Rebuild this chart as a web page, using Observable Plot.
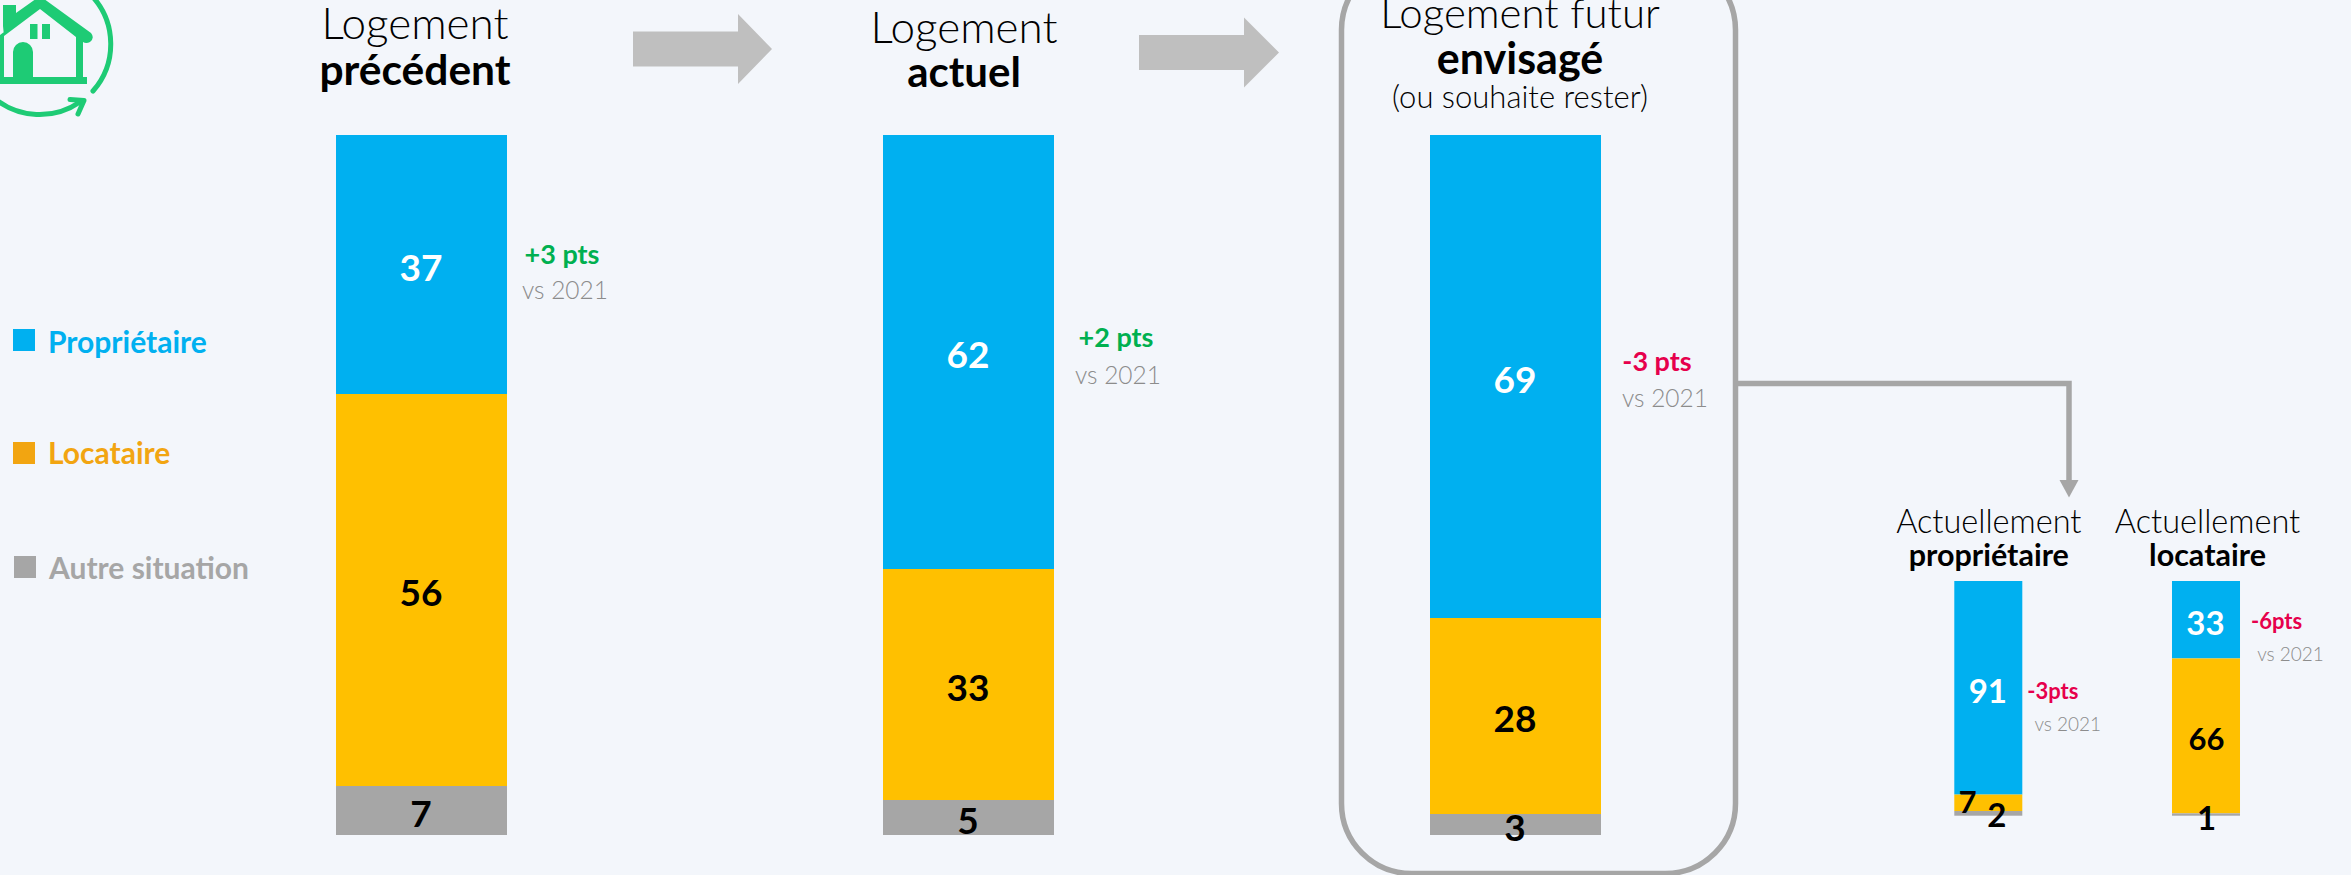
<!DOCTYPE html>
<html lang="fr">
<head>
<meta charset="utf-8">
<title>Logement précédent, actuel et futur envisagé</title>
<script src="https://cdn.jsdelivr.net/npm/d3@7"></script>
<script src="https://cdn.jsdelivr.net/npm/@observablehq/plot@0.6"></script>
<style>
  html, body { margin: 0; padding: 0; background: #F3F6FB; }
  #page { position: relative; width: 2351px; height: 875px; overflow: hidden; background: #F3F6FB; font-family: Lato, "Noto Sans", sans-serif; }
  #page svg { position: absolute; left: 0; top: 0; background: transparent; font-family: Lato, "Noto Sans", sans-serif; }
  .legend-item { position: absolute; font-weight: 700; font-size: 30px; line-height: 1; white-space: nowrap; }
  .legend-item i { position: absolute; left: -36px; top: 3px; width: 22px; height: 22px; display: block; }
</style>
</head>
<body>
<div id="page"></div>
<script>
// ---- Data ----
const series = ["Propriétaire", "Locataire", "Autre situation"];
const seriesColors = ["#00B0F0", "#FFC000", "#A6A6A6"];
const legendColors = ["#00B0F0", "#F2A511", "#A6A6A6"];

const mainColumns = ["précédent", "actuel", "envisagé"];
const mainProprietaire = [37, 62, 69];
const mainLocataire = [56, 33, 28];
const mainAutre = [7, 5, 3];

const detailColumns = ["propriétaire", "locataire"];
const detailProprietaire = [91, 33];
const detailLocataire = [7, 66];
const detailAutre = [2, 1];

const mainDeltas = ["+3 pts", "+2 pts", "-3 pts"];
const detailDeltas = ["-3pts", "-6pts"];
const versus = "vs 2021";

const GREEN = "#00B050", RED = "#E6004C", GREY = "#8C8C8C";

function rows(columns, ...values) {
  return columns.flatMap((c, i) => series.map((s, k) => ({col: c, serie: s, value: values[k][i]})));
}
const mainRows = rows(mainColumns, mainProprietaire, mainLocataire, mainAutre);
const detailRows = rows(detailColumns, detailProprietaire, detailLocataire, detailAutre);

const color = {domain: series, range: seriesColors};
const y = {domain: [0, 100], reverse: true, axis: null};

// value label on its stacked segment; the stack runs over all rows, only the selected ones print
const valueLabel = (data, keep, fill, fontSize, dx, dy) =>
  Plot.text(data, Plot.stackY({x: "col", y: "value", order: null, text: d => keep(d) ? d.value : "", fill, fontSize, fontWeight: 700, dx, dy}));

// text placed relative to the frame's top edge, horizontally on a column
const note = (col, text, baseline, dx, size, weight, fill, top) =>
  Plot.text([col], {x: d => d, text: () => text, frameAnchor: "top", lineAnchor: "bottom", dy: baseline - top, dx,
    fontSize: size, fontWeight: weight, fill});

function decorations() {
  const g = d3.create("svg:g");
  const arrow = (x0, xs, x1, yc) => g.append("path")
    .attr("d", `M${x0},${yc - 17.5}H${xs}V${yc - 35}L${x1},${yc}L${xs},${yc + 35}V${yc + 17.5}H${x0}Z`).attr("fill", "#BFBFBF");
  arrow(633, 738, 772, 49);
  arrow(1139, 1244, 1279, 52.5);

  // rounded frame around the "futur" column, running off the top
  g.append("rect").attr("x", 1341.5).attr("y", -40).attr("width", 394).attr("height", 913.5).attr("rx", 70).attr("ry", 70)
    .attr("fill", "none").attr("stroke", "#A6A6A6").attr("stroke-width", 5.5);

  // connector
  g.append("path").attr("d", "M1738,383.5H2069V482").attr("fill", "none").attr("stroke", "#A6A6A6").attr("stroke-width", 5.5);
  g.append("path").attr("d", "M2059.5,480H2078.5L2069,497.5Z").attr("fill", "#A6A6A6");

  // house icon
  const house = g.append("g").attr("fill", "#1ECB75");
  house.append("path").attr("d",
    "M3,5H16V13L40,-4L91,33Q95,38,90,42Q86,44,83,42V77H87V84H-5V77H0V35L4,32V77H13V52A10,10,0,0,1,33,52V77H76V37L40,9L4,36L3,26Z");
  house.append("rect").attr("x", 30).attr("y", 24).attr("width", 7.5).attr("height", 15);
  house.append("rect").attr("x", 42).attr("y", 24).attr("width", 8).attr("height", 15);
  const ring = g.append("g").attr("fill", "none").attr("stroke", "#1ECB75").attr("stroke-width", 5).attr("stroke-linecap", "round").attr("stroke-linejoin", "round");
  ring.append("path").attr("d", "M92,-4A71,71,0,0,1,93,91");
  ring.append("path").attr("d", "M-6,98A71,71,0,0,0,80,102");
  ring.append("path").attr("d", "M70,99.5L84,100.5L78,114");
  return g.node();
}

const is = s => d => d.serie === s;
const notFirst = d => d.serie !== series[0];

const mainPlot = Plot.plot({
  width: 2351, height: 875,
  marginTop: 135, marginBottom: 40, marginLeft: 0, marginRight: 0,
  style: {background: "transparent", overflow: "visible"},
  x: {domain: mainColumns, range: [-40, 1977], padding: 0.6874, round: false, axis: null},
  y, color,
  marks: [
    decorations,
    Plot.barY(mainRows, {x: "col", y: "value", fill: "serie", order: null}),
    valueLabel(mainRows, is(series[0]), "#fff", 37, -1, 4),
    valueLabel(mainRows, notFirst, "#000", 37, -1, 4),

    note("précédent", "Logement", 38, -7, 44, 300, "#000", 135),
    note("précédent", "précédent", 84, -7, 42.5, 700, "#000", 135),
    note("actuel", "Logement", 42, -5, 44, 300, "#000", 135),
    note("actuel", "actuel", 86, -5, 42, 700, "#000", 135),
    note("envisagé", "Logement futur", 27, 4, 42, 300, "#000", 135),
    note("envisagé", "envisagé", 73, 4, 43, 700, "#000", 135),
    note("envisagé", "(ou souhaite rester)", 107, 4, 31, 300, "#000", 135),

    note(mainColumns[0], mainDeltas[0], 263, 140, 27, 700, GREEN, 135),
    note(mainColumns[0], versus, 298, 143, 24.5, 300, GREY, 135),
    note(mainColumns[1], mainDeltas[1], 346, 147, 27, 700, GREEN, 135),
    note(mainColumns[1], versus, 383, 149, 24.5, 300, GREY, 135),
    note(mainColumns[2], mainDeltas[2], 370, 141, 27, 700, RED, 135),
    note(mainColumns[2], versus, 406, 149, 24.5, 300, GREY, 135)
  ]
});

const is7 = d => d.serie === series[1] && d.col === detailColumns[0];
const detailPlot = Plot.plot({
  width: 2351, height: 875,
  marginTop: 581, marginBottom: 59.3, marginLeft: 0, marginRight: 0,
  style: {background: "transparent", overflow: "visible"},
  x: {domain: detailColumns, range: [1804.6, 2389.7], padding: 0.6876, round: false, axis: null},
  y, color,
  marks: [
    Plot.barY(detailRows, {x: "col", y: "value", fill: "serie", order: null}),
    valueLabel(detailRows, is(series[0]), "#fff", 33, -1, 4),
    valueLabel(detailRows, d => d.serie === series[1] && !is7(d), "#000", 31, 0, 4),
    valueLabel(detailRows, is7, "#000", 31, -21, 0),
    valueLabel(detailRows, d => d.serie === series[2] && d.col === detailColumns[0], "#000", 33, 8, 3),
    valueLabel(detailRows, d => d.serie === series[2] && d.col === detailColumns[1], "#000", 33, 0, 4),

    note("propriétaire", "Actuellement", 532, 0, 32.5, 300, "#000", 581),
    note("propriétaire", "propriétaire", 565, 0, 30.5, 700, "#000", 581),
    note("locataire", "Actuellement", 532, 1, 32.5, 300, "#000", 581),
    note("locataire", "locataire", 565, 1, 30.5, 700, "#000", 581),

    note(detailColumns[0], detailDeltas[0], 698, 64, 22, 700, RED, 581),
    note(detailColumns[0], versus, 730, 79, 19, 300, GREY, 581),
    note(detailColumns[1], detailDeltas[1], 628, 70, 22, 700, RED, 581),
    note(detailColumns[1], versus, 660, 84, 19, 300, GREY, 581)
  ]
});

const page = document.getElementById("page");
page.append(mainPlot, detailPlot);

// Legend
const legendPlaces = [[48, 326], [48, 437], [49, 552]];
series.forEach((s, i) => {
  const item = document.createElement("div");
  item.className = "legend-item";
  item.style.left = legendPlaces[i][0] + "px";
  item.style.top = legendPlaces[i][1] + "px";
  item.style.color = legendColors[i];
  item.textContent = s;
  const sw = document.createElement("i");
  sw.style.background = legendColors[i];
  sw.style.left = "-35px";
  sw.style.top = i === 1 ? "5px" : i === 2 ? "4px" : "3px";
  item.prepend(sw);
  page.append(item);
});
</script>
</body>
</html>
